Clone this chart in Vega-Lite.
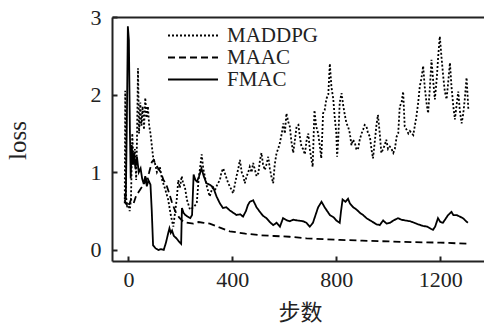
{
"$schema": "https://vega.github.io/schema/vega-lite/v6.json",
"width": 372, "height": 244,
"autosize": {"type": "none"},
"padding": {"left": 112, "top": 17, "right": 0, "bottom": 65},
"background": "white",
"config": {"view": {"stroke": null}, "font": "Liberation Serif"},
"datasets": {
"curves": [
{"method":"FMAC","step":-14,"loss":0.71},{"method":"FMAC","step":-10,"loss":0.65},{"method":"FMAC","step":-6,"loss":1.6},{"method":"FMAC","step":-2,"loss":2.88},{"method":"FMAC","step":2,"loss":2.7},{"method":"FMAC","step":6,"loss":1.5},{"method":"FMAC","step":9,"loss":0.92},{"method":"FMAC","step":13,"loss":1.35},{"method":"FMAC","step":17,"loss":1.1},{"method":"FMAC","step":22,"loss":1.25},{"method":"FMAC","step":27,"loss":1.05},{"method":"FMAC","step":33,"loss":1.2},{"method":"FMAC","step":40,"loss":1.0},{"method":"FMAC","step":47,"loss":1.05},{"method":"FMAC","step":53,"loss":0.92},{"method":"FMAC","step":59,"loss":0.85},{"method":"FMAC","step":65,"loss":0.95},{"method":"FMAC","step":71,"loss":0.82},{"method":"FMAC","step":77,"loss":0.9},{"method":"FMAC","step":85,"loss":0.84},{"method":"FMAC","step":90,"loss":0.5},{"method":"FMAC","step":95,"loss":0.06},{"method":"FMAC","step":105,"loss":0.02},{"method":"FMAC","step":115,"loss":0.0},{"method":"FMAC","step":125,"loss":0.01},{"method":"FMAC","step":136,"loss":0.0},{"method":"FMAC","step":145,"loss":0.1},{"method":"FMAC","step":152,"loss":0.2},{"method":"FMAC","step":158,"loss":0.28},{"method":"FMAC","step":163,"loss":0.22},{"method":"FMAC","step":168,"loss":0.25},{"method":"FMAC","step":175,"loss":0.18},{"method":"FMAC","step":185,"loss":0.15},{"method":"FMAC","step":194,"loss":0.11},{"method":"FMAC","step":203,"loss":0.08},{"method":"FMAC","step":206,"loss":0.54},{"method":"FMAC","step":212,"loss":0.48},{"method":"FMAC","step":219,"loss":0.45},{"method":"FMAC","step":228,"loss":0.43},{"method":"FMAC","step":238,"loss":0.41},{"method":"FMAC","step":245,"loss":0.45},{"method":"FMAC","step":251,"loss":0.97},{"method":"FMAC","step":258,"loss":0.9},{"method":"FMAC","step":264,"loss":0.88},{"method":"FMAC","step":272,"loss":0.95},{"method":"FMAC","step":281,"loss":1.05},{"method":"FMAC","step":290,"loss":0.95},{"method":"FMAC","step":300,"loss":0.86},{"method":"FMAC","step":313,"loss":0.84},{"method":"FMAC","step":326,"loss":0.81},{"method":"FMAC","step":339,"loss":0.69},{"method":"FMAC","step":352,"loss":0.6},{"method":"FMAC","step":364,"loss":0.54},{"method":"FMAC","step":377,"loss":0.55},{"method":"FMAC","step":390,"loss":0.51},{"method":"FMAC","step":403,"loss":0.48},{"method":"FMAC","step":416,"loss":0.45},{"method":"FMAC","step":430,"loss":0.46},{"method":"FMAC","step":441,"loss":0.43},{"method":"FMAC","step":452,"loss":0.5},{"method":"FMAC","step":460,"loss":0.58},{"method":"FMAC","step":467,"loss":0.62},{"method":"FMAC","step":480,"loss":0.64},{"method":"FMAC","step":493,"loss":0.55},{"method":"FMAC","step":506,"loss":0.49},{"method":"FMAC","step":518,"loss":0.44},{"method":"FMAC","step":531,"loss":0.41},{"method":"FMAC","step":544,"loss":0.36},{"method":"FMAC","step":557,"loss":0.32},{"method":"FMAC","step":570,"loss":0.35},{"method":"FMAC","step":583,"loss":0.3},{"method":"FMAC","step":595,"loss":0.41},{"method":"FMAC","step":610,"loss":0.38},{"method":"FMAC","step":621,"loss":0.37},{"method":"FMAC","step":634,"loss":0.39},{"method":"FMAC","step":650,"loss":0.38},{"method":"FMAC","step":672,"loss":0.37},{"method":"FMAC","step":685,"loss":0.35},{"method":"FMAC","step":698,"loss":0.3},{"method":"FMAC","step":710,"loss":0.35},{"method":"FMAC","step":720,"loss":0.45},{"method":"FMAC","step":730,"loss":0.55},{"method":"FMAC","step":743,"loss":0.62},{"method":"FMAC","step":755,"loss":0.55},{"method":"FMAC","step":765,"loss":0.5},{"method":"FMAC","step":775,"loss":0.45},{"method":"FMAC","step":790,"loss":0.42},{"method":"FMAC","step":800,"loss":0.38},{"method":"FMAC","step":813,"loss":0.35},{"method":"FMAC","step":818,"loss":0.5},{"method":"FMAC","step":824,"loss":0.65},{"method":"FMAC","step":835,"loss":0.62},{"method":"FMAC","step":845,"loss":0.66},{"method":"FMAC","step":852,"loss":0.6},{"method":"FMAC","step":865,"loss":0.55},{"method":"FMAC","step":878,"loss":0.52},{"method":"FMAC","step":890,"loss":0.48},{"method":"FMAC","step":903,"loss":0.45},{"method":"FMAC","step":916,"loss":0.41},{"method":"FMAC","step":930,"loss":0.38},{"method":"FMAC","step":945,"loss":0.35},{"method":"FMAC","step":955,"loss":0.33},{"method":"FMAC","step":967,"loss":0.32},{"method":"FMAC","step":980,"loss":0.38},{"method":"FMAC","step":993,"loss":0.34},{"method":"FMAC","step":1006,"loss":0.35},{"method":"FMAC","step":1020,"loss":0.38},{"method":"FMAC","step":1037,"loss":0.41},{"method":"FMAC","step":1050,"loss":0.39},{"method":"FMAC","step":1065,"loss":0.38},{"method":"FMAC","step":1083,"loss":0.37},{"method":"FMAC","step":1100,"loss":0.35},{"method":"FMAC","step":1115,"loss":0.33},{"method":"FMAC","step":1133,"loss":0.31},{"method":"FMAC","step":1150,"loss":0.3},{"method":"FMAC","step":1165,"loss":0.27},{"method":"FMAC","step":1172,"loss":0.26},{"method":"FMAC","step":1180,"loss":0.3},{"method":"FMAC","step":1191,"loss":0.41},{"method":"FMAC","step":1200,"loss":0.36},{"method":"FMAC","step":1210,"loss":0.35},{"method":"FMAC","step":1220,"loss":0.4},{"method":"FMAC","step":1230,"loss":0.45},{"method":"FMAC","step":1243,"loss":0.49},{"method":"FMAC","step":1250,"loss":0.45},{"method":"FMAC","step":1262,"loss":0.45},{"method":"FMAC","step":1275,"loss":0.43},{"method":"FMAC","step":1287,"loss":0.41},{"method":"FMAC","step":1296,"loss":0.38},{"method":"FMAC","step":1306,"loss":0.35},
{"method":"MAAC","step":-14,"loss":0.65},{"method":"MAAC","step":-10,"loss":0.6},{"method":"MAAC","step":0,"loss":0.55},{"method":"MAAC","step":10,"loss":0.65},{"method":"MAAC","step":20,"loss":0.6},{"method":"MAAC","step":30,"loss":0.7},{"method":"MAAC","step":40,"loss":0.75},{"method":"MAAC","step":50,"loss":0.8},{"method":"MAAC","step":60,"loss":0.85},{"method":"MAAC","step":70,"loss":0.9},{"method":"MAAC","step":80,"loss":1.0},{"method":"MAAC","step":90,"loss":1.13},{"method":"MAAC","step":97,"loss":1.16},{"method":"MAAC","step":105,"loss":1.1},{"method":"MAAC","step":115,"loss":1.05},{"method":"MAAC","step":125,"loss":1.0},{"method":"MAAC","step":135,"loss":0.9},{"method":"MAAC","step":145,"loss":0.85},{"method":"MAAC","step":155,"loss":0.75},{"method":"MAAC","step":167,"loss":0.62},{"method":"MAAC","step":180,"loss":0.5},{"method":"MAAC","step":195,"loss":0.42},{"method":"MAAC","step":212,"loss":0.36},{"method":"MAAC","step":230,"loss":0.35},{"method":"MAAC","step":250,"loss":0.34},{"method":"MAAC","step":270,"loss":0.36},{"method":"MAAC","step":290,"loss":0.35},{"method":"MAAC","step":313,"loss":0.34},{"method":"MAAC","step":350,"loss":0.29},{"method":"MAAC","step":390,"loss":0.24},{"method":"MAAC","step":450,"loss":0.21},{"method":"MAAC","step":506,"loss":0.19},{"method":"MAAC","step":560,"loss":0.18},{"method":"MAAC","step":620,"loss":0.17},{"method":"MAAC","step":685,"loss":0.15},{"method":"MAAC","step":750,"loss":0.14},{"method":"MAAC","step":813,"loss":0.13},{"method":"MAAC","step":900,"loss":0.12},{"method":"MAAC","step":1000,"loss":0.11},{"method":"MAAC","step":1100,"loss":0.1},{"method":"MAAC","step":1200,"loss":0.095},{"method":"MAAC","step":1306,"loss":0.08},
{"method":"MADDPG","step":-14,"loss":0.6},{"method":"MADDPG","step":-12,"loss":2.05},{"method":"MADDPG","step":-9,"loss":0.7},{"method":"MADDPG","step":-5,"loss":0.55},{"method":"MADDPG","step":0,"loss":0.6},{"method":"MADDPG","step":5,"loss":0.5},{"method":"MADDPG","step":10,"loss":0.65},{"method":"MADDPG","step":15,"loss":1.5},{"method":"MADDPG","step":20,"loss":1.1},{"method":"MADDPG","step":25,"loss":1.3},{"method":"MADDPG","step":30,"loss":0.9},{"method":"MADDPG","step":33,"loss":1.4},{"method":"MADDPG","step":37,"loss":2.34},{"method":"MADDPG","step":41,"loss":1.5},{"method":"MADDPG","step":46,"loss":1.9},{"method":"MADDPG","step":50,"loss":1.6},{"method":"MADDPG","step":55,"loss":1.85},{"method":"MADDPG","step":60,"loss":1.55},{"method":"MADDPG","step":65,"loss":1.96},{"method":"MADDPG","step":70,"loss":1.7},{"method":"MADDPG","step":75,"loss":1.85},{"method":"MADDPG","step":80,"loss":1.6},{"method":"MADDPG","step":85,"loss":1.5},{"method":"MADDPG","step":90,"loss":1.35},{"method":"MADDPG","step":95,"loss":1.2},{"method":"MADDPG","step":102,"loss":1.12},{"method":"MADDPG","step":110,"loss":1.0},{"method":"MADDPG","step":121,"loss":1.07},{"method":"MADDPG","step":130,"loss":0.9},{"method":"MADDPG","step":140,"loss":0.8},{"method":"MADDPG","step":153,"loss":0.65},{"method":"MADDPG","step":163,"loss":0.45},{"method":"MADDPG","step":173,"loss":0.3},{"method":"MADDPG","step":180,"loss":0.5},{"method":"MADDPG","step":186,"loss":0.65},{"method":"MADDPG","step":192,"loss":0.9},{"method":"MADDPG","step":198,"loss":0.8},{"method":"MADDPG","step":205,"loss":0.95},{"method":"MADDPG","step":211,"loss":0.85},{"method":"MADDPG","step":217,"loss":0.82},{"method":"MADDPG","step":225,"loss":0.65},{"method":"MADDPG","step":237,"loss":0.52},{"method":"MADDPG","step":250,"loss":0.55},{"method":"MADDPG","step":263,"loss":0.6},{"method":"MADDPG","step":270,"loss":0.9},{"method":"MADDPG","step":282,"loss":1.23},{"method":"MADDPG","step":288,"loss":1.05},{"method":"MADDPG","step":294,"loss":0.95},{"method":"MADDPG","step":303,"loss":0.8},{"method":"MADDPG","step":313,"loss":0.69},{"method":"MADDPG","step":323,"loss":0.8},{"method":"MADDPG","step":333,"loss":0.77},{"method":"MADDPG","step":343,"loss":0.85},{"method":"MADDPG","step":352,"loss":0.9},{"method":"MADDPG","step":358,"loss":1.0},{"method":"MADDPG","step":365,"loss":1.05},{"method":"MADDPG","step":375,"loss":0.95},{"method":"MADDPG","step":384,"loss":0.86},{"method":"MADDPG","step":393,"loss":0.8},{"method":"MADDPG","step":403,"loss":0.73},{"method":"MADDPG","step":410,"loss":0.85},{"method":"MADDPG","step":416,"loss":0.95},{"method":"MADDPG","step":423,"loss":1.05},{"method":"MADDPG","step":429,"loss":1.16},{"method":"MADDPG","step":436,"loss":1.0},{"method":"MADDPG","step":442,"loss":0.95},{"method":"MADDPG","step":448,"loss":0.86},{"method":"MADDPG","step":455,"loss":0.95},{"method":"MADDPG","step":461,"loss":1.0},{"method":"MADDPG","step":467,"loss":1.07},{"method":"MADDPG","step":474,"loss":1.0},{"method":"MADDPG","step":480,"loss":1.12},{"method":"MADDPG","step":487,"loss":1.03},{"method":"MADDPG","step":493,"loss":0.95},{"method":"MADDPG","step":500,"loss":0.99},{"method":"MADDPG","step":506,"loss":1.15},{"method":"MADDPG","step":512,"loss":1.25},{"method":"MADDPG","step":518,"loss":1.1},{"method":"MADDPG","step":525,"loss":1.03},{"method":"MADDPG","step":531,"loss":1.1},{"method":"MADDPG","step":538,"loss":1.2},{"method":"MADDPG","step":544,"loss":1.05},{"method":"MADDPG","step":550,"loss":0.95},{"method":"MADDPG","step":557,"loss":0.86},{"method":"MADDPG","step":563,"loss":1.1},{"method":"MADDPG","step":570,"loss":1.25},{"method":"MADDPG","step":576,"loss":1.3},{"method":"MADDPG","step":583,"loss":1.38},{"method":"MADDPG","step":590,"loss":1.5},{"method":"MADDPG","step":596,"loss":1.63},{"method":"MADDPG","step":602,"loss":1.5},{"method":"MADDPG","step":608,"loss":1.76},{"method":"MADDPG","step":615,"loss":1.65},{"method":"MADDPG","step":621,"loss":1.59},{"method":"MADDPG","step":627,"loss":1.4},{"method":"MADDPG","step":634,"loss":1.25},{"method":"MADDPG","step":640,"loss":1.4},{"method":"MADDPG","step":647,"loss":1.59},{"method":"MADDPG","step":654,"loss":1.61},{"method":"MADDPG","step":660,"loss":1.45},{"method":"MADDPG","step":666,"loss":1.33},{"method":"MADDPG","step":672,"loss":1.3},{"method":"MADDPG","step":679,"loss":1.23},{"method":"MADDPG","step":685,"loss":1.4},{"method":"MADDPG","step":692,"loss":1.5},{"method":"MADDPG","step":698,"loss":1.3},{"method":"MADDPG","step":705,"loss":1.15},{"method":"MADDPG","step":709,"loss":1.07},{"method":"MADDPG","step":713,"loss":1.5},{"method":"MADDPG","step":716,"loss":1.8},{"method":"MADDPG","step":722,"loss":1.6},{"method":"MADDPG","step":730,"loss":1.5},{"method":"MADDPG","step":736,"loss":1.35},{"method":"MADDPG","step":742,"loss":1.18},{"method":"MADDPG","step":746,"loss":1.5},{"method":"MADDPG","step":749,"loss":1.76},{"method":"MADDPG","step":755,"loss":1.8},{"method":"MADDPG","step":762,"loss":1.95},{"method":"MADDPG","step":769,"loss":2.0},{"method":"MADDPG","step":775,"loss":2.4},{"method":"MADDPG","step":781,"loss":2.1},{"method":"MADDPG","step":788,"loss":1.95},{"method":"MADDPG","step":794,"loss":1.7},{"method":"MADDPG","step":800,"loss":1.5},{"method":"MADDPG","step":803,"loss":1.2},{"method":"MADDPG","step":807,"loss":1.4},{"method":"MADDPG","step":813,"loss":1.9},{"method":"MADDPG","step":820,"loss":2.02},{"method":"MADDPG","step":826,"loss":1.87},{"method":"MADDPG","step":832,"loss":1.75},{"method":"MADDPG","step":839,"loss":1.63},{"method":"MADDPG","step":845,"loss":1.59},{"method":"MADDPG","step":852,"loss":1.5},{"method":"MADDPG","step":858,"loss":1.35},{"method":"MADDPG","step":864,"loss":1.42},{"method":"MADDPG","step":871,"loss":1.38},{"method":"MADDPG","step":877,"loss":1.3},{"method":"MADDPG","step":883,"loss":1.29},{"method":"MADDPG","step":890,"loss":1.42},{"method":"MADDPG","step":897,"loss":1.5},{"method":"MADDPG","step":903,"loss":1.55},{"method":"MADDPG","step":909,"loss":1.61},{"method":"MADDPG","step":916,"loss":1.59},{"method":"MADDPG","step":922,"loss":1.5},{"method":"MADDPG","step":929,"loss":1.46},{"method":"MADDPG","step":935,"loss":1.3},{"method":"MADDPG","step":941,"loss":1.18},{"method":"MADDPG","step":948,"loss":1.4},{"method":"MADDPG","step":954,"loss":1.6},{"method":"MADDPG","step":960,"loss":1.74},{"method":"MADDPG","step":967,"loss":1.5},{"method":"MADDPG","step":973,"loss":1.25},{"method":"MADDPG","step":980,"loss":1.3},{"method":"MADDPG","step":986,"loss":1.35},{"method":"MADDPG","step":992,"loss":1.42},{"method":"MADDPG","step":999,"loss":1.3},{"method":"MADDPG","step":1006,"loss":1.33},{"method":"MADDPG","step":1011,"loss":1.31},{"method":"MADDPG","step":1019,"loss":1.25},{"method":"MADDPG","step":1025,"loss":1.3},{"method":"MADDPG","step":1032,"loss":1.46},{"method":"MADDPG","step":1038,"loss":1.5},{"method":"MADDPG","step":1044,"loss":1.85},{"method":"MADDPG","step":1051,"loss":1.9},{"method":"MADDPG","step":1057,"loss":2.04},{"method":"MADDPG","step":1063,"loss":1.59},{"method":"MADDPG","step":1070,"loss":1.55},{"method":"MADDPG","step":1077,"loss":1.5},{"method":"MADDPG","step":1083,"loss":1.53},{"method":"MADDPG","step":1090,"loss":1.5},{"method":"MADDPG","step":1096,"loss":1.48},{"method":"MADDPG","step":1102,"loss":1.6},{"method":"MADDPG","step":1108,"loss":1.72},{"method":"MADDPG","step":1115,"loss":1.9},{"method":"MADDPG","step":1121,"loss":2.11},{"method":"MADDPG","step":1127,"loss":2.2},{"method":"MADDPG","step":1134,"loss":2.37},{"method":"MADDPG","step":1140,"loss":2.1},{"method":"MADDPG","step":1147,"loss":1.89},{"method":"MADDPG","step":1153,"loss":1.76},{"method":"MADDPG","step":1160,"loss":2.1},{"method":"MADDPG","step":1166,"loss":2.45},{"method":"MADDPG","step":1172,"loss":2.2},{"method":"MADDPG","step":1179,"loss":1.94},{"method":"MADDPG","step":1186,"loss":2.2},{"method":"MADDPG","step":1192,"loss":2.5},{"method":"MADDPG","step":1198,"loss":2.75},{"method":"MADDPG","step":1204,"loss":2.5},{"method":"MADDPG","step":1211,"loss":2.24},{"method":"MADDPG","step":1217,"loss":2.05},{"method":"MADDPG","step":1224,"loss":1.94},{"method":"MADDPG","step":1230,"loss":2.15},{"method":"MADDPG","step":1237,"loss":2.41},{"method":"MADDPG","step":1243,"loss":2.1},{"method":"MADDPG","step":1250,"loss":1.85},{"method":"MADDPG","step":1256,"loss":1.68},{"method":"MADDPG","step":1262,"loss":1.85},{"method":"MADDPG","step":1269,"loss":2.04},{"method":"MADDPG","step":1275,"loss":1.8},{"method":"MADDPG","step":1282,"loss":1.63},{"method":"MADDPG","step":1288,"loss":1.75},{"method":"MADDPG","step":1294,"loss":1.94},{"method":"MADDPG","step":1301,"loss":2.22},{"method":"MADDPG","step":1308,"loss":1.8}
],
"frame": [{"step": 0}]
},
"layer": [
{
"data": {"name": "curves"},
"mark": {"type": "line", "color": "black", "strokeWidth": 1.8, "clip": true},
"encoding": {
"x": {"field": "step", "type": "quantitative",
"scale": {"domain": [-63, 1368], "nice": false, "zero": false},
"axis": {"orient": "bottom", "values": [0, 400, 800, 1200], "format": "d", "title": "步数", "grid": false,
"domainColor": "#222", "domainWidth": 2, "tickColor": "#222", "tickWidth": 2, "tickSize": -5,
"labelFont": "Liberation Serif", "labelFontSize": 22, "labelColor": "#222", "labelPadding": 13, "labelFlush": false,
"titleFont": "Noto Sans CJK SC", "titleFontSize": 22, "titleFontWeight": "normal", "titleColor": "#222",
"titleX": 188, "titleY": 51, "titleAlign": "center", "titleBaseline": "middle"}},
"y": {"field": "loss", "type": "quantitative",
"scale": {"domain": [-0.142, 3], "nice": false, "zero": false},
"axis": {"orient": "left", "values": [0, 1, 2, 3], "format": "d", "title": "loss", "grid": false,
"domainColor": "#222", "domainWidth": 2, "tickColor": "#222", "tickWidth": 2, "tickSize": -5,
"labelFont": "Liberation Serif", "labelFontSize": 22, "labelColor": "#222", "labelPadding": 16, "labelFlush": false,
"titleFont": "Liberation Serif", "titleFontSize": 25, "titleFontWeight": "normal", "titleColor": "#222",
"titleX": -95, "titleY": 123, "titleAlign": "center", "titleBaseline": "middle", "titleAngle": -90}},
"strokeDash": {"field": "method", "type": "nominal",
"scale": {"domain": ["MADDPG", "MAAC", "FMAC"], "range": [[2, 2], [7, 4], [1, 0]]},
"legend": {"orient": "none", "legendX": 55, "legendY": 9, "title": null, "padding": 0,
"symbolType": "stroke", "symbolSize": 2500, "symbolStrokeWidth": 2, "symbolStrokeColor": "black",
"clipHeight": 19, "rowPadding": 0, "labelOffset": 8,
"labelFont": "Liberation Serif", "labelFontSize": 21, "labelColor": "#222"}}
}
},
{
"data": {"name": "frame"},
"mark": {"type": "rule", "opacity": 0},
"encoding": {
"x": {"field": "step", "type": "quantitative",
"axis": {"orient": "top", "title": null, "labels": false, "ticks": false, "grid": false,
"domainColor": "#222", "domainWidth": 2}}
}
}
],
"resolve": {"axis": {"x": "independent"}}
}
